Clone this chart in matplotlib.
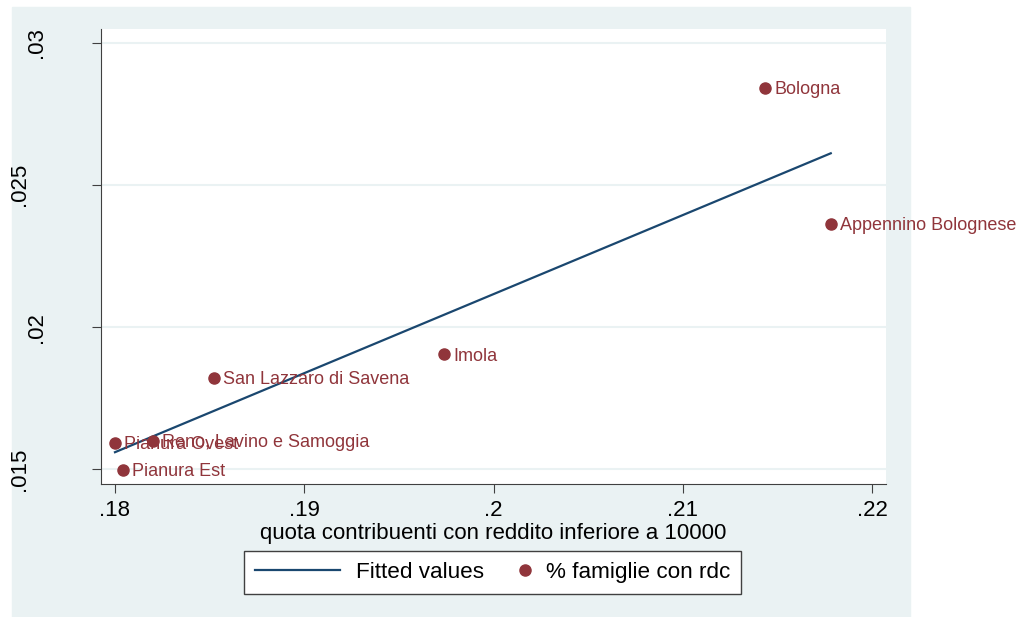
import matplotlib
matplotlib.use("Agg")
import matplotlib.pyplot as plt
from matplotlib.patches import Rectangle
from matplotlib.legend_handler import HandlerLine2D

plt.rcParams['font.family'] = ['Liberation Sans', 'DejaVu Sans']

# values
areas = ["Bologna", "Appennino Bolognese", "Imola", "San Lazzaro di Savena",
         "Reno, Lavino e Samoggia", "Pianura Ovest", "Pianura Est"]
quota_10000 = [0.21435, 0.21782, 0.19738, 0.18523, 0.18199, 0.18000, 0.18041]
fam_rdc = [0.02842, 0.02363, 0.01904, 0.01821, 0.01599, 0.01594, 0.01499]

# lfit endpoints
fit_x = [0.18000, 0.21782]
fit_y = [0.01560, 0.02611]

xticks = [0.18, 0.19, 0.20, 0.21, 0.22]
xticklabels = [".18", ".19", ".2", ".21", ".22"]
yticks = [0.015, 0.020, 0.025, 0.030]
yticklabels = [".015", ".02", ".025", ".03"]

navy = "#1a476f"
maroon = "#90353b"
bg = "#eaf2f3"
axcol = "#404040"


class RightDot(HandlerLine2D):
    # stata puts the legend dot right next to its text
    def get_xdata(self, legend, xdescent, ydescent, width, height, fontsize):
        x = -xdescent + width - 0.22 * fontsize
        return [x, x], [x]


fig = plt.figure(figsize=(10.21, 6.17), dpi=100)
fig.patches.append(Rectangle((12 / 1021, 0), (910 - 12) / 1021, 1 - 7 / 617,
                             transform=fig.transFigure, color=bg, zorder=0))

ax = fig.add_axes([0.0989, 0.2156, 0.7689, 0.7374], zorder=2)
ax.set_facecolor("white")

fit_line, = ax.plot(fit_x, fit_y, color=navy, lw=1.6, zorder=2)
dots, = ax.plot(quota_10000, fam_rdc, 'o', ms=8, color=maroon, zorder=3)

for name, x, y in zip(areas, quota_10000, fam_rdc):
    ax.annotate(name, (x, y), xytext=(6.5, -1.2), textcoords="offset points",
                ha="left", va="center", fontsize=13, color=maroon, zorder=4)

ax.set_xlim(0.17926, 0.22074)
ax.set_ylim(0.014483, 0.03048)
ax.set_xticks(xticks)
ax.set_xticklabels(xticklabels)
ax.set_yticks(yticks)
ax.tick_params(length=6.5, width=0.8, color=axcol, labelsize=16, pad=5)
ax.tick_params(axis="y", labelleft=False)

# rotated y labels, stata shifts the long ones further out
for val, lab in zip(yticks, yticklabels):
    xoff = -0.091 if len(lab) > 3 else -0.0685
    ax.text(xoff, val, lab, transform=ax.get_yaxis_transform(), rotation=90,
            ha="right", va="center", fontsize=16)

ax.yaxis.grid(True, color=bg, lw=1.5)
ax.set_axisbelow(True)
for s in ["top", "right"]:
    ax.spines[s].set_visible(False)
for s in ["left", "bottom"]:
    ax.spines[s].set_color(axcol)
    ax.spines[s].set_linewidth(0.8)

ax.set_xlabel("quota contribuenti con reddito inferiore a 10000", fontsize=16, labelpad=1.5)

leg = fig.legend(handles=[fit_line, dots], labels=["Fitted values", "% famiglie con rdc"],
                 handler_map={dots: RightDot()}, loc="center",
                 bbox_to_anchor=(0.4824, 0.0721), ncol=2, fontsize=16.2,
                 handlelength=3.78, handletextpad=0.7, columnspacing=-1.75,
                 borderpad=0.5, fancybox=False, framealpha=1, edgecolor=axcol)
leg.get_frame().set_linewidth(1.0)

plt.savefig("out.png", dpi=100)
